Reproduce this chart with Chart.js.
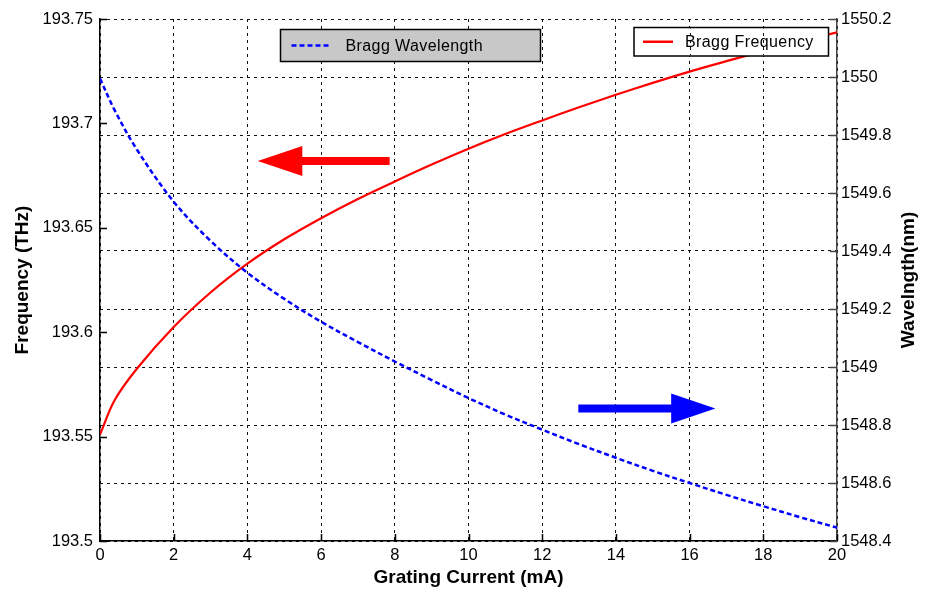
<!DOCTYPE html>
<html>
<head>
<meta charset="utf-8">
<title>Bragg grating tuning</title>
<script src="https://cdn.jsdelivr.net/npm/chart.js@4/dist/chart.umd.min.js"></script>
<style>
  html, body { margin: 0; padding: 0; background: #fff; }
  canvas { display: block; }
</style>
</head>
<body>
<canvas id="braggChart" width="925" height="597"></canvas>
<script>
// grating current sweep (mA)
var currentMA = [0, 0.4, 1, 2, 3, 4, 5, 6, 7, 8, 9, 10, 11, 12, 13, 14, 15, 16, 17, 18, 19, 20];
// Bragg frequency (THz) - left axis
var braggFreq = [193.551, 193.5675, 193.5825, 193.6025, 193.619, 193.6328, 193.6445, 193.6546, 193.6638, 193.6722,
  193.6803, 193.6879, 193.6949, 193.7014, 193.7077, 193.7137, 193.7194, 193.7248, 193.7298, 193.7346,
  193.7392, 193.7436];
// Bragg wavelength (nm) - right axis
var braggWl = [1549.995, 1549.885, 1549.75, 1549.57, 1549.435, 1549.325, 1549.235, 1549.156, 1549.086, 1549.019,
  1548.955, 1548.893, 1548.836, 1548.784, 1548.734, 1548.687, 1548.642, 1548.6, 1548.559, 1548.52,
  1548.482, 1548.446];

var xTicks = [0, 2, 4, 6, 8, 10, 12, 14, 16, 18, 20];
var freqTicks = [193.5, 193.55, 193.6, 193.65, 193.7, 193.75];
var freqLabels = ["193.5", "193.55", "193.6", "193.65", "193.7", "193.75"];
var wlTicks = [1548.4, 1548.6, 1548.8, 1549, 1549.2, 1549.4, 1549.6, 1549.8, 1550, 1550.2];
var wlLabels = ["1548.4", "1548.6", "1548.8", "1549", "1549.2", "1549.4", "1549.6", "1549.8", "1550", "1550.2"];

// arrows telling which curve belongs to which axis (data units)
var arrows = [
  { axis: 'yFreq', tail: 7.86, base: 5.49, tip: 4.28, at: 193.682, color: '#ff0000' },
  { axis: 'yWl', tail: 12.98, base: 15.5, tip: 16.7, at: 1548.857, color: '#0000ff' }
];

var FAMILY = '"Liberation Sans", Arial, Helvetica, sans-serif';
var tickFont = { family: FAMILY, size: 16.5 };
var titleFont = { family: FAMILY, size: 19, weight: 'bold' };
var gridDash = [3, 4];
var gridColor = '#111';

function pts(ys) {
  return currentMA.map(function(x, i) { return { x: x, y: ys[i] }; });
}

function fixedTicks(list) {
  return function(scale) {
    scale.ticks = list.map(function(v) { return { value: v }; });
  };
}

function drawArrow(ctx, xTail, xBase, xTip, y, color) {
  ctx.save();
  ctx.fillStyle = color;
  ctx.beginPath();
  ctx.moveTo(xTail, y - 4);
  ctx.lineTo(xBase, y - 4);
  ctx.lineTo(xBase, y - 15);
  ctx.lineTo(xTip, y);
  ctx.lineTo(xBase, y + 15);
  ctx.lineTo(xBase, y + 4);
  ctx.lineTo(xTail, y + 4);
  ctx.closePath();
  ctx.fill();
  ctx.restore();
}

function legendEntry(ctx, ds, box, fill) {
  ctx.save();
  ctx.fillStyle = fill;
  ctx.fillRect(box.x, box.y, box.w, box.h);
  ctx.strokeStyle = '#000';
  ctx.lineWidth = 1.5;
  ctx.strokeRect(box.x, box.y, box.w, box.h);
  var my = box.y + box.h / 2;
  ctx.strokeStyle = ds.borderColor;
  ctx.lineWidth = 2.5;
  ctx.setLineDash(ds.borderDash || []);
  ctx.beginPath();
  ctx.moveTo(box.x + box.sample[0], my);
  ctx.lineTo(box.x + box.sample[1], my);
  ctx.stroke();
  ctx.setLineDash([]);
  ctx.fillStyle = '#000';
  ctx.font = '16px ' + FAMILY;
  ctx.letterSpacing = '0.4px';
  ctx.textBaseline = 'middle';
  ctx.fillText(ds.label, box.x + box.textX, my + 1);
  ctx.restore();
}

var overlay = {
  id: 'overlay',
  afterDatasetsDraw: function(chart) {
    var ctx = chart.ctx, area = chart.chartArea, sx = chart.scales.x;

    arrows.forEach(function(a) {
      var y = chart.scales[a.axis].getPixelForValue(a.at);
      drawArrow(ctx, sx.getPixelForValue(a.tail), sx.getPixelForValue(a.base),
        sx.getPixelForValue(a.tip), y, a.color);
    });

    var wl = chart.data.datasets[1], fr = chart.data.datasets[0];
    legendEntry(ctx, wl, { x: area.left + 180.5, y: area.top + 10.5, w: 260, h: 32, sample: [11, 50], textX: 65 }, '#c8c8c8');
    var frBox = { x: area.left + 534, y: area.top + 8.5, w: 194.5, h: 28.5, sample: [9, 39], textX: 51 };
    legendEntry(ctx, fr, frBox, '#ffffff');

    // the vertical grid shows through the frequency legend
    ctx.save();
    ctx.beginPath();
    ctx.rect(frBox.x + 1, frBox.y + 1, frBox.w - 2, frBox.h - 2);
    ctx.clip();
    ctx.strokeStyle = gridColor;
    ctx.lineWidth = 1;
    ctx.setLineDash(gridDash);
    xTicks.forEach(function(v) {
      var x = Math.round(sx.getPixelForValue(v)) + 0.5;
      ctx.beginPath();
      ctx.moveTo(x, area.top);
      ctx.lineTo(x, area.bottom);
      ctx.stroke();
    });
    ctx.restore();
  },
  afterDraw: function(chart) {
    var ctx = chart.ctx, area = chart.chartArea, s = chart.scales;
    ctx.save();
    ctx.lineWidth = 1.5;
    ctx.strokeStyle = '#000';
    ctx.beginPath();
    // inward tick marks
    freqTicks.forEach(function(v) {
      var y = Math.round(s.yFreq.getPixelForValue(v)) + 0.5;
      ctx.moveTo(area.left, y); ctx.lineTo(area.left + 7, y);
    });
    xTicks.forEach(function(v) {
      var x = Math.round(s.x.getPixelForValue(v)) + 0.5;
      ctx.moveTo(x, area.bottom); ctx.lineTo(x, area.bottom - 7);
    });
    ctx.stroke();
    ctx.strokeStyle = '#444';
    ctx.beginPath();
    wlTicks.forEach(function(v) {
      var y = Math.round(s.yWl.getPixelForValue(v)) + 0.5;
      ctx.moveTo(area.right, y); ctx.lineTo(area.right - 7, y);
    });
    ctx.stroke();

    // right axis title reads bottom to top
    ctx.translate(909, (area.top + area.bottom) / 2);
    ctx.rotate(-Math.PI / 2);
    ctx.fillStyle = '#000';
    ctx.font = 'bold 19px ' + FAMILY;
    ctx.textAlign = 'center';
    ctx.textBaseline = 'middle';
    ctx.fillText('Wavelngth(nm)', 0, 0);
    ctx.restore();
  }
};

new Chart(document.getElementById('braggChart'), {
  type: 'line',
  data: {
    datasets: [
      {
        label: 'Bragg Frequency',
        data: pts(braggFreq),
        yAxisID: 'yFreq',
        borderColor: '#ff0000',
        borderWidth: 2.2,
        pointRadius: 0,
        tension: 0.35,
        fill: false,
        order: 1
      },
      {
        label: 'Bragg Wavelength',
        data: pts(braggWl),
        yAxisID: 'yWl',
        borderColor: '#0000ff',
        borderWidth: 2.5,
        borderDash: [5, 3],
        pointRadius: 0,
        tension: 0.35,
        fill: false,
        order: 0
      }
    ]
  },
  options: {
    responsive: false,
    animation: false,
    layout: { padding: { top: 19, left: 0, right: 0, bottom: 0 } },
    plugins: {
      legend: { display: false },
      tooltip: { enabled: false }
    },
    scales: {
      x: {
        type: 'linear',
        min: 0,
        max: 20,
        afterBuildTicks: fixedTicks(xTicks),
        afterFit: function(s) { s.height = 56; },
        ticks: { font: tickFont, color: '#000', padding: 5, maxRotation: 0,
          callback: function(v) { return String(v); } },
        grid: { color: gridColor, lineWidth: 1, drawTicks: false },
        border: { display: true, color: '#000', width: 1.5, dash: gridDash },
        title: { display: true, text: 'Grating Current (mA)', font: titleFont, color: '#000',
          padding: { top: 0, bottom: 8 } }
      },
      yFreq: {
        type: 'linear',
        position: 'left',
        min: 193.5,
        max: 193.75,
        afterBuildTicks: fixedTicks(freqTicks),
        afterFit: function(s) { s.width = 100; },
        ticks: { font: tickFont, color: '#000', padding: 7,
          callback: function(v) { return freqLabels[freqTicks.indexOf(v)]; } },
        grid: { display: false, drawTicks: false },
        border: { display: true, color: '#000', width: 1.5 },
        title: { display: true, text: 'Frequency (THz)', font: titleFont, color: '#000',
          padding: { top: 11, bottom: 0 } }
      },
      yWl: {
        type: 'linear',
        position: 'right',
        min: 1548.4,
        max: 1550.2,
        afterBuildTicks: fixedTicks(wlTicks),
        afterFit: function(s) { s.width = 88; },
        ticks: { font: tickFont, color: '#000', padding: 4,
          callback: function(v) { return wlLabels[wlTicks.indexOf(v)]; } },
        grid: { color: gridColor, lineWidth: 1, drawTicks: false },
        border: { display: true, color: '#444', width: 1.5, dash: gridDash }
      }
    }
  },
  plugins: [overlay]
});
</script>
</body>
</html>
